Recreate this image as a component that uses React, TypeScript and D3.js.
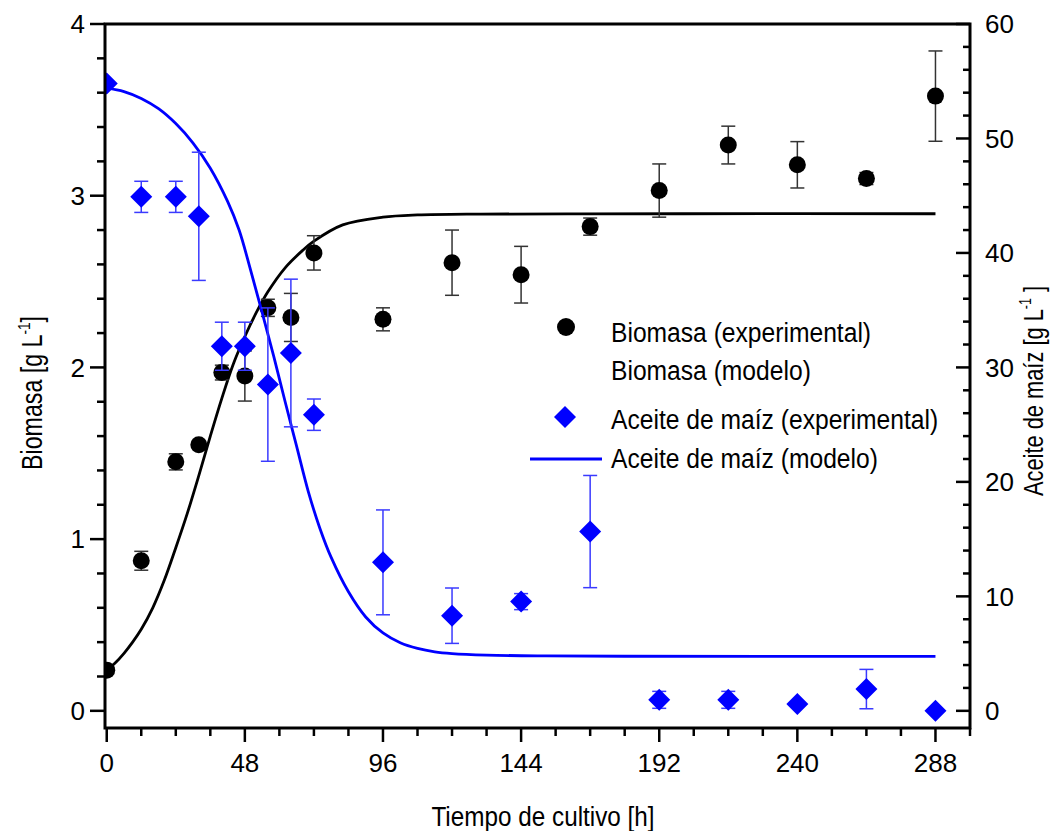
import React from 'react';
import * as d3 from 'd3';

// ---- data ----
const timeH = [0, 12, 24, 32, 40, 48, 56, 64, 72, 96, 120, 144, 168, 192, 216, 240, 264, 288];
const biomasaExp = [0.237, 0.874, 1.45, 1.55, 1.97, 1.95, 2.347, 2.291, 2.667, 2.28, 2.61, 2.54, 2.82, 3.03, 3.295, 3.18, 3.1, 3.58];
const biomasaErr = [0, 0.055, 0.047, 0, 0.043, 0.146, 0.05, 0.14, 0.1, 0.067, 0.19, 0.165, 0.05, 0.155, 0.11, 0.135, 0.035, 0.263];
const aceiteExp = [54.8, 44.9, 44.9, 43.2, 31.85, 31.85, 28.5, 31.26, 25.87, 12.97, 8.31, 9.54, 15.66, 0.96, 0.96, 0.6, 1.9, 0];
const aceiteErr = [0, 1.36, 1.36, 5.6, 2.1, 2.1, 6.7, 6.45, 1.37, 4.58, 2.42, 0.7, 4.9, 0.74, 0.74, 0, 1.72, 0];

const bioModelT = [0, 3, 6, 9, 12, 16, 20, 24, 28, 32, 36, 40, 44, 48, 52, 56, 62, 68, 72, 82, 96, 108, 130, 160, 200, 288];
const bioModelV = [0.237, 0.28, 0.335, 0.4, 0.475, 0.6, 0.76, 0.95, 1.15, 1.37, 1.6, 1.82, 2.02, 2.18, 2.32, 2.44, 2.58, 2.68, 2.735, 2.83, 2.875, 2.888, 2.893, 2.894, 2.895, 2.895];

const oilModelT = [0, 6, 12, 18, 24, 30, 36, 42, 46, 50, 54, 58, 62, 66, 70, 74, 78, 84, 90, 96, 102, 108, 114, 120, 132, 150, 180, 288];
const oilModelV = [54.4, 54.1, 53.5, 52.6, 51.3, 49.6, 47.4, 44.5, 42.0, 38.5, 34.8, 31.0, 27.0, 23.1, 19.2, 16.0, 13.4, 10.4, 8.2, 6.8, 5.95, 5.45, 5.15, 5.0, 4.87, 4.8, 4.77, 4.75];

const xTicks = [0, 48, 96, 144, 192, 240, 288];
const leftTicks = [0, 1, 2, 3, 4];
const rightTicks = [0, 10, 20, 30, 40, 50, 60];

const legendLabels = [
  'Biomasa (experimental)',
  'Biomasa (modelo)',
  'Aceite de maíz (experimental)',
  'Aceite de maíz (modelo)',
];

const W = 1061;
const H = 831;
const L = 105, R = 970, T = 24, B = 728;

const FONT = "'Liberation Sans', Arial, sans-serif";

export default function App() {
  const x = d3.scaleLinear().domain([-0.6, 300]).range([L, R]);
  const yL = d3.scaleLinear().domain([-0.1, 4]).range([B, T]);
  const yR = d3.scaleLinear().domain([-1.5, 60]).range([B, T]);

  const minorX = d3.range(0, 301, 12);
  const minorL = d3.range(0, 4.001, 0.2);
  const minorR = d3.range(0, 60.001, 2);

  const bioLine = d3
    .line<number>()
    .x((_, i) => x(bioModelT[i]))
    .y((d) => yL(d))
    .curve(d3.curveCatmullRom.alpha(0.5))(bioModelV) as string;
  const oilLine = d3
    .line<number>()
    .x((_, i) => x(oilModelT[i]))
    .y((d) => yR(d))
    .curve(d3.curveCatmullRom.alpha(0.5))(oilModelV) as string;

  const diamond = (r: number) => `M0,${-r}L${r},0L0,${r}L${-r},0Z`;
  const cap = 7;

  const narrow = (sx: number) => `scale(${sx},1)`;

  return (
    <svg width={W} height={H} viewBox={`0 0 ${W} ${H}`} style={{ display: 'block', position: 'absolute', left: 0, top: 0 }}>
      <defs>
        <clipPath id="plot">
          <rect x={L} y={T - 20} width={R - L} height={B - T + 20} />
        </clipPath>
      </defs>
      <rect x={0} y={0} width={W} height={H} fill="#fff" />

      <g clipPath="url(#plot)">
        {/* biomass model */}
        <path d={bioLine} fill="none" stroke="#000" strokeWidth={2.8} />
        {/* biomass error bars */}
        {timeH.map((t, i) =>
          biomasaErr[i] > 0 ? (
            <g key={'be' + i} stroke="#333" strokeWidth={1.5}>
              <line x1={x(t)} x2={x(t)} y1={yL(biomasaExp[i] - biomasaErr[i])} y2={yL(biomasaExp[i] + biomasaErr[i])} />
              <line x1={x(t) - cap} x2={x(t) + cap} y1={yL(biomasaExp[i] - biomasaErr[i])} y2={yL(biomasaExp[i] - biomasaErr[i])} />
              <line x1={x(t) - cap} x2={x(t) + cap} y1={yL(biomasaExp[i] + biomasaErr[i])} y2={yL(biomasaExp[i] + biomasaErr[i])} />
            </g>
          ) : null
        )}
        {timeH.map((t, i) => (
          <circle key={'bc' + i} cx={x(t)} cy={yL(biomasaExp[i])} r={8.5} fill="#000" />
        ))}

        {/* oil model */}
        <path d={oilLine} fill="none" stroke="#0000ff" strokeWidth={2.8} />
        {timeH.map((t, i) =>
          aceiteErr[i] > 0 ? (
            <g key={'ae' + i} stroke="#3a3aff" strokeWidth={1.5}>
              <line x1={x(t)} x2={x(t)} y1={yR(aceiteExp[i] - aceiteErr[i])} y2={yR(aceiteExp[i] + aceiteErr[i])} />
              <line x1={x(t) - cap} x2={x(t) + cap} y1={yR(aceiteExp[i] - aceiteErr[i])} y2={yR(aceiteExp[i] - aceiteErr[i])} />
              <line x1={x(t) - cap} x2={x(t) + cap} y1={yR(aceiteExp[i] + aceiteErr[i])} y2={yR(aceiteExp[i] + aceiteErr[i])} />
            </g>
          ) : null
        )}
        {timeH.map((t, i) => (
          <path key={'ad' + i} d={diamond(11)} transform={`translate(${x(t)},${yR(aceiteExp[i])})`} fill="#0000ff" />
        ))}
      </g>

      {/* frame */}
      <g stroke="#000" strokeWidth={3} fill="none">
        <rect x={L} y={T} width={R - L} height={B - T} />
      </g>

      {/* ticks */}
      <g stroke="#000" strokeWidth={2.5}>
        {minorX.map((t) => (
          <line key={'mx' + t} x1={x(t)} x2={x(t)} y1={B} y2={B + (t % 48 === 0 && t <= 288 ? 14 : 8)} />
        ))}
        {minorL.map((v, i) => (
          <line key={'ml' + i} x1={L} x2={L - (i % 5 === 0 ? 15 : 8)} y1={yL(v)} y2={yL(v)} />
        ))}
        {minorR.map((v, i) => (
          <line key={'mr' + i} x1={R} x2={R - (i % 5 === 0 ? 14 : 7)} y1={yR(v)} y2={yR(v)} />
        ))}
      </g>

      {/* tick labels */}
      <g fontFamily={FONT} fontSize={26} fill="#000">
        {xTicks.map((t) => (
          <text key={'xt' + t} x={x(t)} y={772} textAnchor="middle">
            {t}
          </text>
        ))}
        {leftTicks.map((v) => (
          <text key={'lt' + v} x={85} y={yL(v) + 9.3} textAnchor="end">
            {v}
          </text>
        ))}
        {rightTicks.map((v) => (
          <text key={'rt' + v} x={985} y={yR(v) + 9.3} textAnchor="start">
            {v}
          </text>
        ))}
      </g>

      {/* axis titles */}
      <g fontFamily={FONT} fill="#000">
        <g transform={`translate(543,826) ${narrow(0.9)}`}>
          <text x={0} y={0} fontSize={27} textAnchor="middle">
            Tiempo de cultivo [h]
          </text>
        </g>
        <g transform={`translate(42,393) rotate(-90) ${narrow(0.8)}`}>
          <text x={0} y={0} fontSize={29} textAnchor="middle">
            Biomasa [g L
            <tspan fontSize={17} dy={-12}>-1</tspan>
            <tspan dy={12}>]</tspan>
          </text>
        </g>
        <g transform={`translate(1043,391) rotate(-90) ${narrow(0.78)}`}>
          <text x={0} y={0} fontSize={28} textAnchor="middle">
            Aceite de maíz [g L
            <tspan fontSize={16} dy={-12}>-1</tspan>
            <tspan dy={12}> ]</tspan>
          </text>
        </g>
      </g>

      {/* legend */}
      <g fontFamily={FONT} fill="#000">
        <circle cx={566} cy={327} r={9} fill="#000" />
        <path d={diamond(11)} transform="translate(565,417)" fill="#0000ff" />
        <line x1={530} x2={602} y1={459} y2={459} stroke="#0000ff" strokeWidth={2.8} />
        {legendLabels.map((s, i) => (
          <g key={'lg' + i} transform={`translate(611,${[341.7, 380, 429.3, 468.3][i]}) ${narrow(0.88)}`}>
            <text x={0} y={0} fontSize={28}>
              {s}
            </text>
          </g>
        ))}
      </g>
    </svg>
  );
}
